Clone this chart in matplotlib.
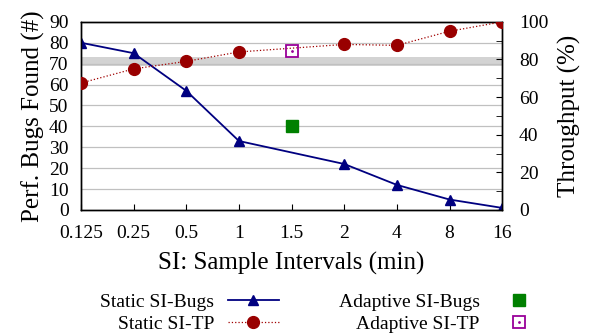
import matplotlib
matplotlib.use("Agg")
import matplotlib.pyplot as plt
import numpy as np

# data
intervals = ["0.125", "0.25", "0.5", "1", "1.5", "2", "4", "8", "16"]
static_bugs = [80, 75, 57, 33, np.nan, 22, 12, 5, 1]
static_tp = [67.5, 75, 79, 84, np.nan, 88, 87.5, 95, 100]
adaptive_bugs = [40]
adaptive_tp = [84.5]
adaptive_at = "1.5"
band_lo, band_hi = 69, 73  # grey band, left-axis units

plt.rcParams["font.family"] = ["Liberation Serif", "DejaVu Serif"]
plt.rcParams["font.size"] = 14

fig = plt.figure(figsize=(6, 3.36), dpi=100)
ax = fig.add_axes([0.135, 0.375, 0.702, 0.56])
ax2 = ax.twinx()

x = np.arange(len(intervals))
xa = intervals.index(adaptive_at)
ok = ~np.isnan(np.array(static_bugs, dtype=float))

ax.axhspan(band_lo, band_hi, color="#d3d3d3", lw=0, zorder=0)
for y in range(10, 90, 10):
    ax.axhline(y, color="#c0c0c0", lw=0.9, zorder=0.5)

l_bugs, = ax.plot(x[ok], np.array(static_bugs)[ok], color="#000080", lw=1.3,
                  marker="^", ms=7, zorder=3)
p_abugs, = ax.plot([xa], adaptive_bugs, ls="none", marker="s", ms=8,
                   color="#008000", zorder=3)

l_tp, = ax2.plot(x[ok], np.array(static_tp)[ok], color="#a00000", lw=0.9, ls=":",
                 marker="o", ms=8.5, mfc="#990000", mec="#990000", zorder=3)
p_atp, = ax2.plot([xa], adaptive_tp, ls="none", marker="s", ms=8, mfc="none",
                  mec="#990099", mew=1.3, zorder=3)
p_atp_dot, = ax2.plot([xa], adaptive_tp, ls="none", marker=".", ms=2,
                      color="#990099", zorder=3)

ax.set_xlim(0, len(intervals) - 1)
ax.set_ylim(0, 90)
ax2.set_ylim(0, 100)
ax.set_xticks(x, intervals)
ax.set_yticks(range(0, 91, 10))
ax2.set_yticks(range(0, 101, 20))
ax2.set_yticks(np.arange(10, 100, 20), minor=True)
ax.tick_params(axis="both", labelsize=14, direction="in", length=4)
ax.tick_params(axis="y", length=0, pad=9)
ax.tick_params(axis="x", top=False, pad=11)
ax2.tick_params(axis="y", which="both", labelsize=14, direction="in", length=4, pad=12)

ax.set_ylabel("Perf. Bugs Found (#)", fontsize=18, labelpad=3)
ax2.set_ylabel("Throughput (%)", fontsize=18, labelpad=7)
ax.set_xlabel("SI: Sample Intervals (min)", fontsize=18, labelpad=7)

for a in (ax, ax2):
    for s in a.spines.values():
        s.set_linewidth(1.0)

leg = fig.legend([l_bugs, l_tp, p_abugs, (p_atp, p_atp_dot)],
                 ["Static SI-Bugs", "Static SI-TP", "Adaptive SI-Bugs", "Adaptive SI-TP"],
                 ncol=2, markerfirst=False, frameon=False, fontsize=14,
                 loc="center", bbox_to_anchor=(0.537, 0.068),
                 handlelength=2.6, labelspacing=0.2, columnspacing=3.1,
                 handletextpad=0.7, borderpad=0)
for col in leg._legend_handle_box.get_children():
    col.align = "right"

fig.savefig("out.png", dpi=100)
